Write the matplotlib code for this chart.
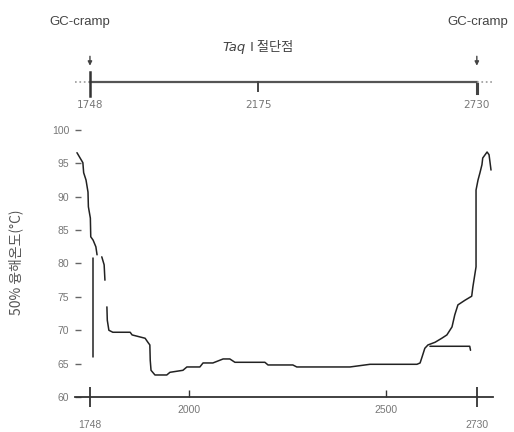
import numpy as np
import matplotlib
matplotlib.use('Agg')
import matplotlib.pyplot as plt

plt.rcParams['font.family'] = ['Liberation Sans', 'Noto Sans CJK KR', 'DejaVu Sans']

# melting map data (position in bp, 50% melting temperature in C)
desc_x = [1715, 1730, 1732, 1738, 1743, 1744, 1749, 1750, 1756, 1763, 1766]
desc_y = [96.6, 95.1, 93.6, 92.5, 90.7, 88.5, 86.8, 84.0, 83.5, 82.5, 81.3]

spike_x = [1755, 1755]
spike_y = [80.8, 66.0]

short_x = [1778, 1784, 1786]
short_y = [81.0, 79.8, 77.5]

main_x = [1791, 1792, 1796, 1806, 1850, 1855, 1888, 1895, 1900, 1901, 1903,
          1913, 1943, 1951, 1984, 1994, 2027, 2035, 2060, 2086, 2103, 2116,
          2192, 2200, 2263, 2273, 2350, 2408, 2459, 2578, 2586, 2591, 2598,
          2606, 2624, 2641, 2654, 2667, 2674, 2682, 2700, 2717, 2720, 2728,
          2728, 2733, 2738, 2743, 2745, 2756, 2761, 2766]
main_y = [73.5, 71.5, 70.0, 69.7, 69.7, 69.3, 68.8, 68.2, 67.8, 65.5, 64.0,
          63.3, 63.3, 63.7, 64.0, 64.5, 64.5, 65.1, 65.1, 65.7, 65.7, 65.2,
          65.2, 64.8, 64.8, 64.5, 64.5, 64.5, 64.9, 64.9, 65.1, 66.0, 67.3,
          67.8, 68.2, 68.8, 69.3, 70.5, 72.3, 73.8, 74.5, 75.1, 76.5, 79.5,
          91.0, 92.5, 93.6, 94.8, 95.8, 96.7, 96.3, 94.0]

branch_x = [2611, 2712, 2714]
branch_y = [67.6, 67.6, 67.0]

end_ticks = [1748, 2730]
mid_ticks = [2000, 2500]
site_ticks = [1748, 2175, 2730]
y_ticks = [60, 65, 70, 75, 80, 85, 90, 95, 100]
x_range = (1710, 2771)

fig = plt.figure(figsize=(5.14, 4.32), dpi=100)

ax = fig.add_axes([0.1459, 0.0810, 0.8132, 0.6181])
for xs, ys in [(desc_x, desc_y), (spike_x, spike_y), (short_x, short_y),
               (main_x, main_y), (branch_x, branch_y)]:
    ax.plot(xs, ys, color='#222222', lw=1.1, solid_capstyle='round')

ax.set_xlim(*x_range)
ax.set_ylim(60, 100)
for s in ['top', 'right', 'left']:
    ax.spines[s].set_visible(False)
ax.spines['bottom'].set_color('#333333')
ax.spines['bottom'].set_linewidth(1.3)

ax.set_yticks(y_ticks)
ax.tick_params(axis='y', direction='in', length=4, width=1, color='#666666',
               labelsize=7.5, labelcolor='#777777', pad=4)

ax.set_xticks(end_ticks)
ax.set_xticks(mid_ticks, minor=True)
ax.set_xticklabels([str(v) for v in end_ticks])
ax.set_xticklabels([str(v) for v in mid_ticks], minor=True)
ax.tick_params(axis='x', which='major', direction='inout', length=15, width=1.3,
               color='#333333', labelsize=7.5, labelcolor='#777777', pad=9)
ax.tick_params(axis='x', which='minor', direction='in', length=5, width=1,
               color='#333333', labelsize=7.5, labelcolor='#777777', pad=6)

# restriction site map on top
top = fig.add_axes([0.1459, 0.7407, 0.8132, 0.1389])
top.set_xlim(*x_range)
top.set_ylim(-1, 1)
top.axis('off')
top.plot([site_ticks[0], site_ticks[-1]], [0, 0], color='#555555', lw=1.6)
top.plot([x_range[0], site_ticks[0]], [0, 0], color='#999999', lw=1.2, ls=':')
top.plot([site_ticks[-1], x_range[1]], [0, 0], color='#999999', lw=1.2, ls=':')
top.plot([site_ticks[0], site_ticks[0]], [0.35, -0.45], color='#333333', lw=1.8)
top.plot([site_ticks[1], site_ticks[1]], [0, -0.3], color='#444444', lw=1.4)
top.plot([site_ticks[2], site_ticks[2]], [-0.05, -0.35], color='#444444', lw=2.2)
for xc in end_ticks:
    top.annotate('', xy=(xc, 0.45), xytext=(xc, 0.95),
                 arrowprops=dict(arrowstyle='-|>', color='#444444', lw=1,
                                 mutation_scale=6))
for xc in site_ticks:
    top.text(xc, -0.75, str(xc), ha='center', va='center', fontsize=7.5,
             color='#777777', family='DejaVu Sans')

fig.text(80 / 514, 1 - 22 / 432, 'GC-cramp', ha='center', va='center',
         fontsize=9.5, color='#444444')
fig.text(447 / 514, 1 - 22 / 432, 'GC-cramp', ha='left', va='center',
         fontsize=9.5, color='#444444')
fig.text(246 / 514, 1 - 47 / 432, 'Taq', ha='right', va='center',
         fontsize=9.5, color='#444444', style='italic', family='DejaVu Sans')
fig.text(250 / 514, 1 - 47 / 432, 'I 절단점', ha='left', va='center',
         fontsize=9.5, color='#444444', family=['Noto Sans CJK KR', 'DejaVu Sans'])
fig.text(16 / 514, 1 - 262 / 432, '50% 융해온도(°C)', ha='center', va='center',
         rotation=90, fontsize=10, color='#555555',
         family=['Noto Sans CJK KR', 'DejaVu Sans'])

fig.savefig('out.png', dpi=100)
